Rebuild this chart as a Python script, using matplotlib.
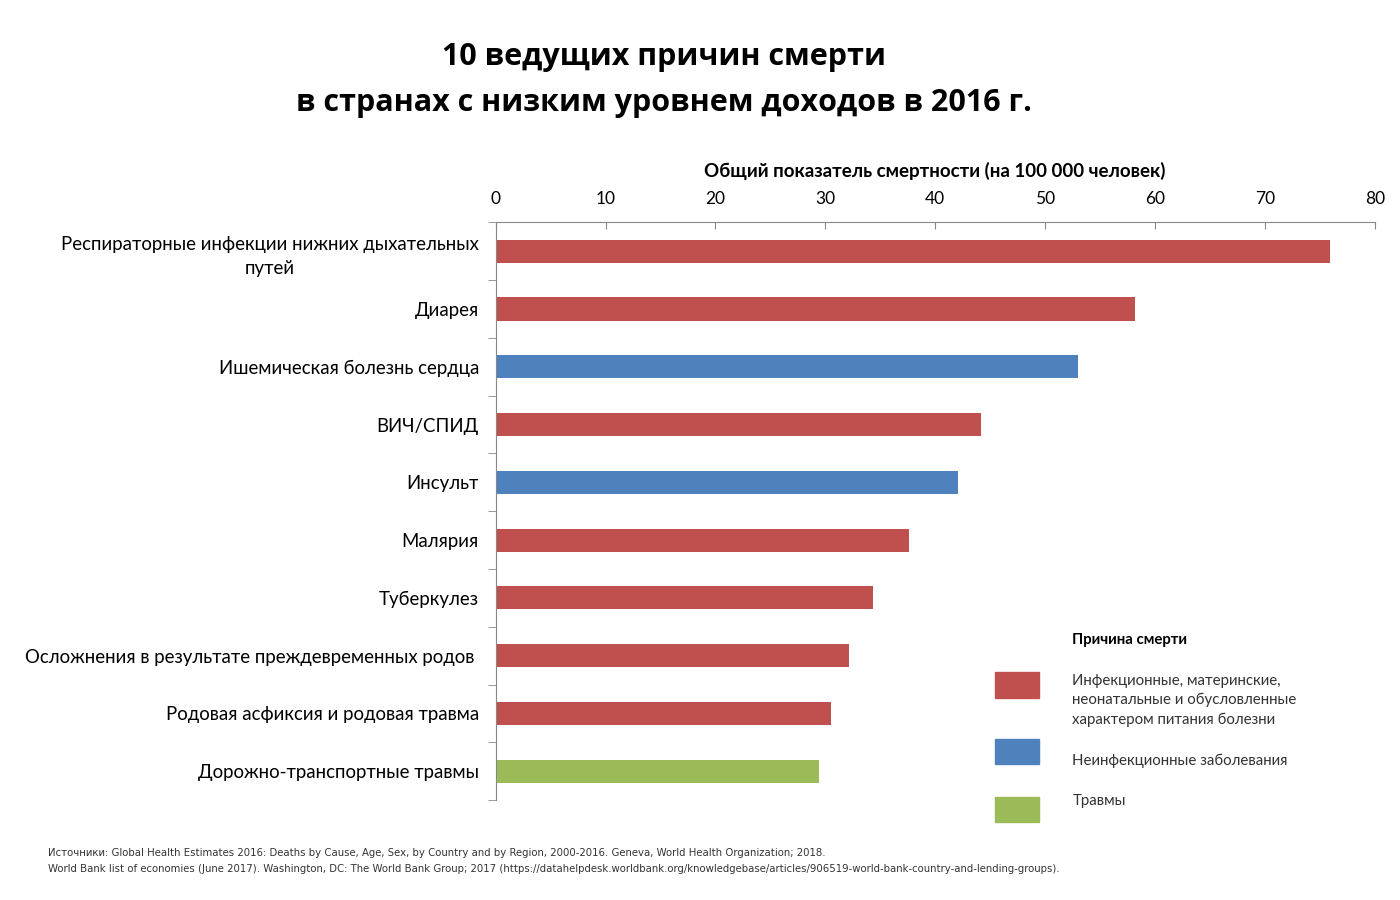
import numpy as np
import matplotlib.pyplot as plt
from matplotlib.patches import Rectangle

causes = [
    "Респираторные инфекции нижних дыхательных\nпутей",
    "Диарея",
    "Ишемическая болезнь сердца",
    "ВИЧ/СПИД",
    "Инсульт",
    "Малярия",
    "Туберкулез",
    "Осложнения в результате преждевременных родов ",
    "Родовая асфиксия и родовая травма",
    "Дорожно-транспортные травмы",
]
rates = [75.9, 58.2, 53.0, 44.2, 42.1, 37.6, 34.3, 32.2, 30.5, 29.4]
groups = [0, 0, 1, 0, 1, 0, 0, 0, 0, 2]

group_names = [
    "Инфекционные, материнские,\nнеонатальные и обусловленные\nхарактером питания болезни",
    "Неинфекционные заболевания",
    "Травмы",
]
group_colors = ["#c0504d", "#4f81bd", "#9bbb59"]

plt.rcParams['font.family'] = ['Lato', 'DejaVu Sans']

fig = plt.figure(figsize=(14, 9), dpi=100)
ax = fig.add_axes([0.354, 0.111, 0.628, 0.642])

y = np.arange(len(causes))
ax.barh(y, rates, height=0.4, color=[group_colors[g] for g in groups])
ax.set_ylim(len(causes) - 0.5, -0.5)
ax.set_xlim(0, 80)

ax.xaxis.tick_top()
ax.xaxis.set_label_position('top')
ax.set_xticks(np.arange(0, 81, 10))
ax.tick_params(axis='x', direction='in', length=5, labelsize=12.5, pad=11, color='#888888')
ax.set_xlabel("Общий показатель смертности (на 100 000 человек)", fontsize=13.5,
              fontweight='bold', labelpad=10)

ax.set_yticks(y)
ax.set_yticklabels(causes, fontsize=13.4, multialignment='center', linespacing=1.5)
ax.tick_params(axis='y', which='major', length=0, pad=12)
ax.set_yticks(np.arange(-0.5, len(causes), 1), minor=True)
ax.tick_params(axis='y', which='minor', length=6, color='#888888')

for s in ['right', 'bottom']:
    ax.spines[s].set_visible(False)
for s in ['top', 'left']:
    ax.spines[s].set_color('#888888')

fig.text(0.474, 0.937, "10 ведущих причин смерти", ha='center', va='center',
         fontsize=22, fontweight='bold', family=['Open Sans', 'DejaVu Sans'])
fig.text(0.474, 0.886, "в странах с низким уровнем доходов в 2016 г.", ha='center',
         va='center', fontsize=22, fontweight='bold', family=['Open Sans', 'DejaVu Sans'])

# legend
fig.text(0.766, 0.289, "Причина смерти", fontsize=10.8, fontweight='bold', va='center')
legend_y = [0.239, 0.165, 0.101]
text_y = [0.222, 0.155, 0.11]
for i in range(3):
    fig.patches.append(Rectangle((0.711, legend_y[i] - 0.014), 0.031, 0.028,
                                 transform=fig.transFigure, color=group_colors[i]))
    fig.text(0.766, text_y[i], group_names[i], fontsize=10.8, va='center', color='#333333',
             linespacing=1.45)

fig.text(0.034, 0.052, "Источники: Global Health Estimates 2016: Deaths by Cause, Age, Sex, by Country and by Region, 2000-2016. Geneva, World Health Organization; 2018.",
         fontsize=7.25, color='#333333', va='center', family=['DejaVu Sans'])
fig.text(0.034, 0.035, "World Bank list of economies (June 2017). Washington, DC: The World Bank Group; 2017 (https://datahelpdesk.worldbank.org/knowledgebase/articles/906519-world-bank-country-and-lending-groups).",
         fontsize=7.25, color='#333333', va='center', family=['DejaVu Sans'])

fig.savefig("out.png", dpi=100)
